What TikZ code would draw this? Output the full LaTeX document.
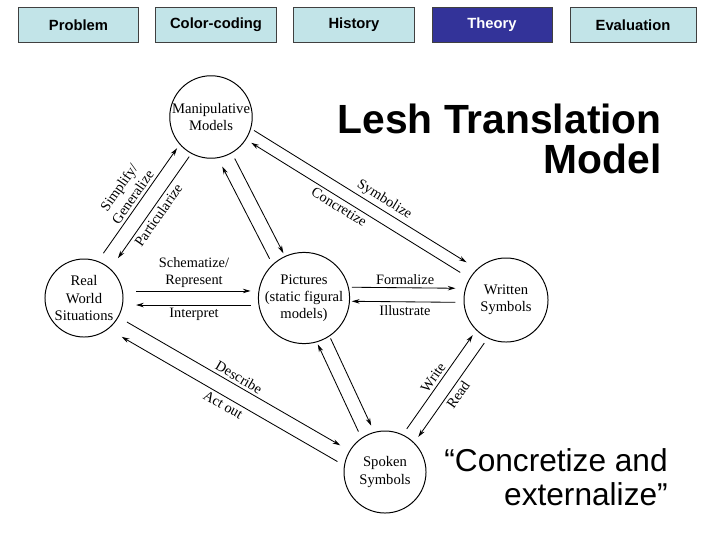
\documentclass[tikz,border=0pt]{standalone}
\usepackage{fontspec}
\setmainfont{Liberation Serif}
\setsansfont{Liberation Sans}
\usepackage{tikz}
\usetikzlibrary{calc,arrows.meta}
\definecolor{tabcyan}{RGB}{194,228,232}
\definecolor{tabnavy}{RGB}{51,51,153}
\tikzset{
 ltm state/.style={circle,draw=black,line width=0.7pt,minimum size=2.05cm,
                   inner sep=0pt,align=center,
                   font=\fontsize{10.4}{12.2}\selectfont},
 ltm arrow/.style={line width=0.6pt,shorten <=34pt,shorten >=34pt,
                   arrows={-{Stealth[length=5.5pt,width=3.2pt]}}},
 ltm back/.style={line width=0.6pt,shorten <=34pt,shorten >=34pt,
                  arrows={{Stealth[length=5.5pt,width=3.2pt]}-}},
 ltm label/.style={inner sep=2pt,align=center,
                   font=\fontsize{10.2}{12}\selectfont},
 ltm tab/.style={draw=black!75,line width=0.7pt,fill=tabcyan,
                 minimum width=3cm,minimum height=0.86cm,inner sep=0pt,
                 font=\sffamily\bfseries\fontsize{10.5}{12}\selectfont},
 ltm title/.style={inner sep=0pt,font=\sffamily\bfseries\fontsize{29}{32}\selectfont},
 ltm quote/.style={inner sep=0pt,font=\sffamily\fontsize{22.5}{26}\selectfont}
}

\begin{document}
\begin{tikzpicture}[x=0.025cm,y=-0.025cm]
 \fill[white] (0,0) rectangle (720,540);
 \useasboundingbox (0,0) rectangle (720,540);

 % menu tabs
 \node[ltm tab] (problem) at (78.5,25) {Problem};
 \node[ltm tab] (colorcoding) at (216,25) {Color-coding};
 \node[ltm tab] (history) at (354,25) {History};
 \node[ltm tab,fill=tabnavy,text=white] (theory) at (492,25) {Theory};
 \node[ltm tab,minimum width=3.15cm] (evaluation) at (633,25) {Evaluation};

 % titles
 \node[ltm title,anchor=base east] (ttlA) at (662,133) {Lesh Translation};
 \node[ltm title,anchor=base east] (ttlB) at (662,173) {Model};
 \node[ltm quote,anchor=base east] (quoteA) at (668,471) {“Concretize and};
 \node[ltm quote,anchor=base east] (quoteB) at (668,505) {externalize”};

 % representations
 \node[ltm state] (mm) at (211,117) {Manipulative\\Models};
 \node[ltm state,minimum size=1.95cm] (rws) at (84,298) {Real\\World\\Situations};
 \node[ltm state,minimum size=2.1cm] (pic) at (304,298) {Pictures\\(static figural\\models)};
 \node[ltm state,minimum size=2.1cm] (ws) at (506,300) {Written\\Symbols};
 \node[ltm state] (ss) at (385,472) {Spoken\\Symbols};

 % translations
 \draw[ltm arrow,shorten >=32pt] ($(rws)!7pt!90:(mm)$)--node[ltm label,sloped,above] {Simplify/\\Generalize}($(mm)!7pt!-90:(rws)$);
 \draw[ltm back,shorten <=37pt,shorten >=32pt] ($(rws)!3.5pt!-90:(mm)$)--node[ltm label,sloped,below] {Particularize}($(mm)!3.5pt!90:(rws)$);
 \draw[ltm arrow,shorten <=36pt,shorten >=35pt] ($(pic)!9pt!90:(mm)$)--($(mm)!9pt!-90:(pic)$);
 \draw[ltm back,shorten <=35pt,shorten >=34pt] ($(pic)!1.5pt!-90:(mm)$)--($(mm)!1.5pt!90:(pic)$);
 \draw[ltm arrow,shorten <=31pt,shorten >=38pt] ($(mm)!8pt!90:(ws)$)--node[ltm label,sloped,above,pos=.55] {Symbolize}($(ws)!8pt!-90:(mm)$);
 \draw[ltm back,shorten >=38pt] ($(mm)!0.5pt!-90:(ws)$)--node[ltm label,sloped,below,pos=.45] {Concretize}($(ws)!0.5pt!90:(mm)$);
 \draw[ltm arrow,shorten <=37pt,shorten >=38pt] ($(rws)!5pt!90:(pic)$)--node[ltm label,above] {Schematize/\\Represent}($(pic)!5pt!-90:(rws)$);
 \draw[ltm back,shorten <=37pt,shorten >=38pt] ($(rws)!5pt!-90:(pic)$)--node[ltm label,below] {Interpret}($(pic)!5pt!90:(rws)$);
 \draw[ltm arrow,shorten >=36pt] ($(pic)!8pt!90:(ws)$)--node[ltm label,above] {Formalize}($(ws)!8pt!-90:(pic)$);
 \draw[ltm back,shorten >=36pt] ($(pic)!2pt!-90:(ws)$)--node[ltm label,below] {Illustrate}($(ws)!2pt!90:(pic)$);
 \draw[ltm arrow,shorten <=35pt,shorten >=37pt] ($(rws)!0.5pt!90:(ss)$)--node[ltm label,sloped,above] {Describe}($(ss)!0.5pt!-90:(rws)$);
 \draw[ltm back,shorten <=37pt,shorten >=33pt] ($(rws)!10.5pt!-90:(ss)$)--node[ltm label,sloped,below] {Act out}($(ss)!10.5pt!90:(rws)$);
 \draw[ltm arrow] ($(pic)!5pt!90:(ss)$)--($(ss)!5pt!-90:(pic)$);
 \draw[ltm back] ($(pic)!5pt!-90:(ss)$)--($(ss)!5pt!90:(pic)$);
 \draw[ltm arrow] ($(ss)!5pt!90:(ws)$)--node[ltm label,sloped,above] {Write}($(ws)!5pt!-90:(ss)$);
 \draw[ltm back] ($(ss)!5pt!-90:(ws)$)--node[ltm label,sloped,below] {Read}($(ws)!5pt!90:(ss)$);
\end{tikzpicture}
\end{document}
